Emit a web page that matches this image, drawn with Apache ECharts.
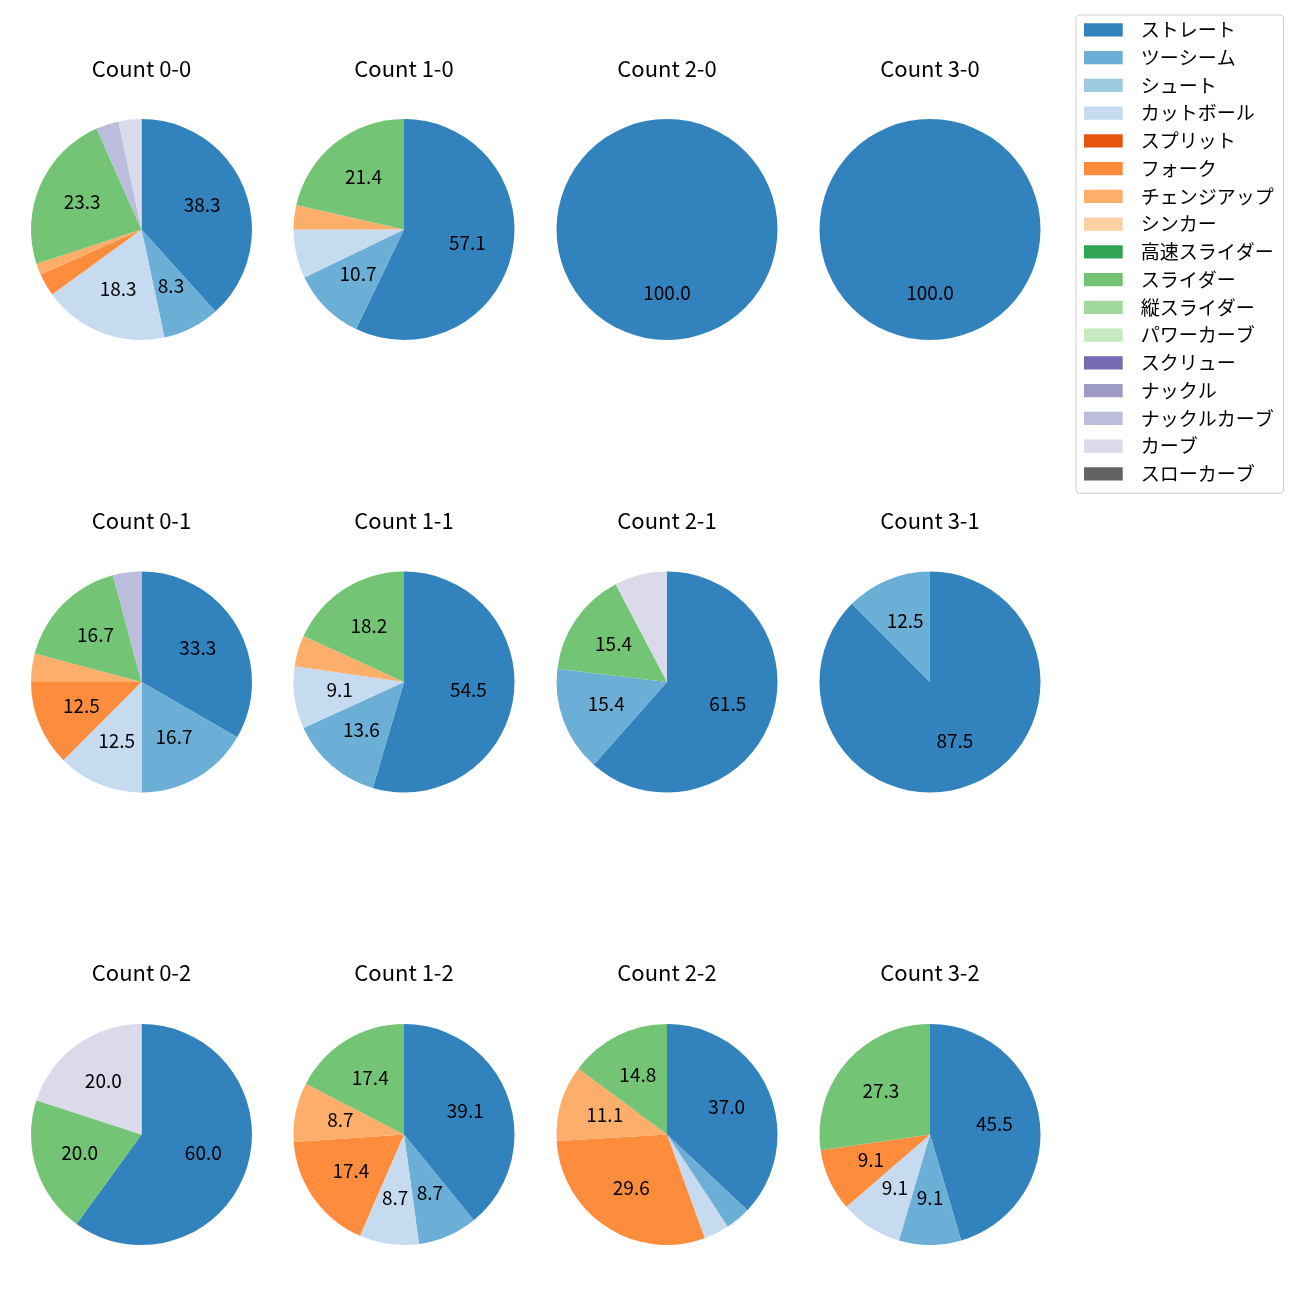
<!DOCTYPE html>
<html><head><meta charset="utf-8">
<script src="https://cdn.jsdelivr.net/npm/echarts@6/dist/echarts.min.js"></script>
<style>html,body{margin:0;padding:0;background:#fff}#chart{width:1300px;height:1300px}</style>
</head><body><div id="chart"></div>
<script>
const pitchTypes = ['ストレート','ツーシーム','シュート','カットボール','スプリット','フォーク','チェンジアップ','シンカー','高速スライダー','スライダー','縦スライダー','パワーカーブ','スクリュー','ナックル','ナックルカーブ','カーブ','スローカーブ'];
const pitchColors = ['#3182bd','#6baed6','#9ecae1','#c6dbef','#e6550d','#fd8d3c','#fdae6b','#fdd0a2','#31a354','#74c476','#a1d99b','#c7e9c0','#756bb1','#9e9ac8','#bcbddc','#dadaeb','#636363'];
const countTitles = ['Count 0-0','Count 1-0','Count 2-0','Count 3-0','Count 0-1','Count 1-1','Count 2-1','Count 3-1','Count 0-2','Count 1-2','Count 2-2','Count 3-2'];
// pitch counts in pitchTypes order
const count00 = [23,5,0,11,0,2,1,0,0,14,0,0,0,0,2,2,0];
const count10 = [16,3,0,2,0,0,1,0,0,6,0,0,0,0,0,0,0];
const count20 = [4,0,0,0,0,0,0,0,0,0,0,0,0,0,0,0,0];
const count30 = [2,0,0,0,0,0,0,0,0,0,0,0,0,0,0,0,0];
const count01 = [8,4,0,3,0,3,1,0,0,4,0,0,0,0,1,0,0];
const count11 = [12,3,0,2,0,0,1,0,0,4,0,0,0,0,0,0,0];
const count21 = [8,2,0,0,0,0,0,0,0,2,0,0,0,0,0,1,0];
const count31 = [7,1,0,0,0,0,0,0,0,0,0,0,0,0,0,0,0];
const count02 = [3,0,0,0,0,0,0,0,0,1,0,0,0,0,0,1,0];
const count12 = [9,2,0,2,0,4,2,0,0,4,0,0,0,0,0,0,0];
const count22 = [10,1,0,1,0,8,3,0,0,4,0,0,0,0,0,0,0];
const count32 = [5,1,0,1,0,1,0,0,0,3,0,0,0,0,0,0,0];
const countData = [count00,count10,count20,count30,count01,count11,count21,count31,count02,count12,count22,count32];

const colCenters = [141.5, 404, 667, 930];
const rowCenters = [229.5, 682, 1134.5];
const titleRows = [68.5, 521, 973];
const pieRadius = 110.5;
const labelRadius = 62;
const labelMinPct = 8;
const FONT = '"Noto Sans CJK JP", "Noto Sans", sans-serif';

const chart = echarts.init(document.getElementById('chart'), null, {renderer: 'canvas'});
const series = [];
const graphics = [];
countData.forEach((vals, i) => {
  const cx = colCenters[i % 4], cy = rowCenters[Math.floor(i / 4)];
  series.push({
    type: 'pie', center: [cx, cy], radius: [0, pieRadius],
    startAngle: 90, clockwise: true, animation: false, silent: true,
    label: {show: false}, labelLine: {show: false},
    emphasis: {disabled: true},
    itemStyle: {borderWidth: 0},
    data: pitchTypes.map((n, k) => ({name: n, value: vals[k], itemStyle: {color: pitchColors[k]}}))
  });
  graphics.push({
    type: 'text', x: cx, y: titleRows[Math.floor(i / 4)],
    style: {text: countTitles[i], fill: '#000', font: '22px ' + FONT, textAlign: 'center', textVerticalAlign: 'middle'}
  });
});
countData.forEach((vals, i) => {
  const cx = colCenters[i % 4], cy = rowCenters[Math.floor(i / 4)];
  const total = vals.reduce((a, b) => a + b, 0);
  series.push({
    type: 'pie', center: [cx, cy], radius: [2 * labelRadius - pieRadius, pieRadius],
    startAngle: 90, clockwise: true, animation: false, silent: true,
    legendHoverLink: false,
    itemStyle: {color: 'rgba(0,0,0,0)', borderWidth: 0},
    emphasis: {disabled: true},
    labelLine: {show: false},
    label: {
      show: true, position: 'inside', color: '#000', fontSize: 19, fontFamily: FONT, offset: [0, -1.5],
      formatter: p => { const pct = p.value / total * 100; return pct >= labelMinPct ? pct.toFixed(1) : ''; }
    },
    data: pitchTypes.map((n, k) => ({name: n, value: vals[k]}))
  });
});

chart.setOption({
  backgroundColor: '#fff',
  animation: false,
  legend: {
    orient: 'vertical', left: 1076, top: 15,
    padding: [5.3, 10, 10, 8],
    data: pitchTypes, icon: 'rect', itemWidth: 38.7, itemHeight: 13.3, itemGap: 8.75,
    selectedMode: false,
    borderColor: '#cccccc', borderWidth: 1, borderRadius: 4, backgroundColor: '#fff',
    textStyle: {fontSize: 19, fontFamily: FONT, color: '#000', padding: [0, 0, 0, 13]}
  },
  graphic: graphics,
  series: series
});
</script></body></html>
